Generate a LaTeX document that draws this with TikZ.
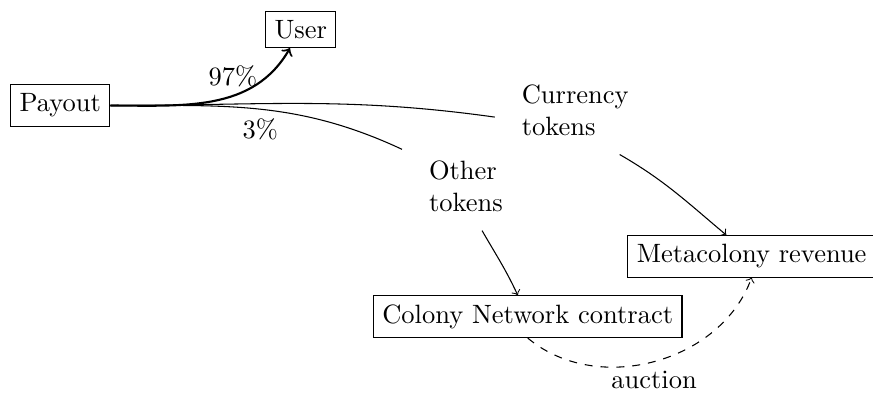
\documentclass[tikz,border=0pt]{standalone}
\begin{document}
\begin{tikzpicture}[box/.style={draw},txt/.style={align=left,inner xsep=10pt,inner ysep=7pt}]
\useasboundingbox (0,0) rectangle (11.58,5.23);
\node[box] (payout) at (0.80,3.83) {Payout};
\node[box] (user) at (3.99,4.84) {User};
\node[txt] (currency) at (7.63,3.77) {Currency\\tokens};
\node[txt] (other) at (6.18,2.76) {Other\\tokens};
\node[box] (meta) at (9.97,1.83) {Metacolony revenue};
\node[box] (colony) at (7.00,1.03) {Colony Network contract};
\draw[thick,->] (payout.east) to[out=0,in=240] node[pos=0.82,left] {97\%} (user);
\draw (payout.east) to[out=0,in=172] (currency.185);
\draw (payout.east) to[out=0,in=155] node[below] {3\%} (other.150);
\draw[->] (currency.-45) to[out=-30,in=140] (meta);
\draw[->] (other.-70) to[out=-60,in=115] (colony);
\draw[dashed,->] (colony.south) to[out=-40,in=-110] node[below] {auction} (meta.south);
\end{tikzpicture}
\end{document}
